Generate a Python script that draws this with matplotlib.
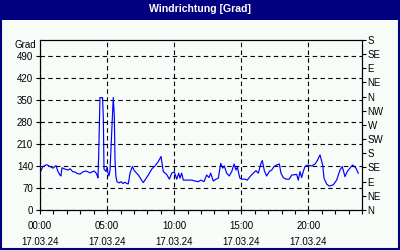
"""Windrichtung chart (wind direction over one day)."""

import matplotlib
matplotlib.use("Agg")
import matplotlib.pyplot as plt
from matplotlib.patches import Rectangle

# hours since 17.03.24 00:00 and wind direction in degrees
hours = [
    0.0, 0.22, 0.5, 0.75, 0.97, 1.19, 1.34, 1.49, 1.56, 1.64, 1.86, 2.09, 2.24,
    2.46, 2.61, 2.76, 2.98, 3.2, 3.43, 3.58, 3.73, 3.87, 4.02, 4.17, 4.25, 4.32,
    4.37, 4.41, 4.47, 4.66, 4.72, 4.77, 4.84, 4.92, 4.99, 5.07, 5.14, 5.22, 5.34,
    5.46, 5.54, 5.59, 5.66, 5.74, 5.89, 6.04, 6.18, 6.33, 6.48, 6.58, 6.71, 6.88,
    7.03, 7.33, 7.7, 8.07, 8.33, 8.57, 8.82, 9.02, 9.19, 9.44, 9.64, 9.82, 10.01,
    10.19, 10.34, 10.43, 10.56, 10.68, 11.31, 11.55, 11.8, 11.98, 12.22, 12.42,
    12.6, 12.72, 12.92, 13.12, 13.29, 13.47, 13.62, 13.74, 13.91, 14.11, 14.29,
    14.46, 14.61, 14.71, 14.81, 14.9, 15.03, 15.28, 15.45, 15.65, 15.9, 16.1,
    16.27, 16.47, 16.57, 16.72, 16.89, 17.09, 17.27, 17.44, 17.64, 17.84, 17.96,
    18.13, 18.33, 18.58, 18.76, 19.13, 19.25, 19.38, 19.5, 19.62, 19.75, 19.92,
    20.25, 20.5, 20.67, 20.87, 21.07, 21.17, 21.37, 21.56, 21.86, 22.11, 22.36,
    22.53, 22.73, 22.9, 23.1, 23.3, 23.55, 23.72,
]
direction = [
    119, 138, 144, 138, 133, 141, 122, 111, 108, 134, 130, 127, 131,
    121, 121, 116, 114, 121, 124, 121, 118, 121, 124, 118, 111, 102,
    166, 245, 357, 357, 293, 130, 127, 122, 134, 117, 108, 127, 245,
    357, 300, 159, 106, 90, 86, 90, 84, 88, 84, 83, 117, 138,
    125, 111, 87, 111, 130, 140, 154, 170, 122, 113, 98, 117, 121,
    98, 117, 101, 117, 95, 95, 92, 90, 95, 90, 111,
    103, 117, 92, 98, 101, 148, 133, 140, 117, 108, 122,
    146, 127, 137, 117, 101, 98, 98, 95, 106, 117, 125,
    117, 148, 157, 125, 108, 122, 127, 138, 143, 146, 117,
    103, 98, 98, 111, 113, 95, 122, 103, 122, 138, 143,
    140, 146, 157, 175, 143, 101, 82, 76, 80, 95, 127,
    138, 106, 122, 133, 143, 133, 117,
]

left_ticks = [0, 70, 140, 210, 280, 350, 420, 490]
compass_ticks = [0, 45, 90, 135, 180, 225, 270, 315, 360, 405, 450, 495, 540]
compass_labels = ["N", "NE", "E", "SE", "S", "SW", "W", "NW",
                  "N", "NE", "E", "SE", "S"]
time_ticks = [0, 5, 10, 15, 20]
time_labels = ["00:00\n17.03.24", "05:00\n17.03.24", "10:00\n17.03.24",
               "15:00\n17.03.24", "20:00\n17.03.24"]

NAVY = "#000080"
BG = "#f8fcf8"

plt.rcParams["font.family"] = ["Liberation Sans", "DejaVu Sans"]
plt.rcParams["font.size"] = 7

fig = plt.figure(figsize=(4, 2.5), dpi=100, facecolor=BG)

# window frame with title bar
fig.patches.append(Rectangle((0, 0.92), 1, 0.08, transform=fig.transFigure,
                             facecolor=NAVY, edgecolor="none", zorder=0))
fig.patches.append(Rectangle((0.0025, 0.004), 0.995, 0.95, transform=fig.transFigure,
                             facecolor="none", edgecolor=NAVY, linewidth=1.5, zorder=0))
fig.text(0.5, 0.966, "Windrichtung [Grad]", color="white", fontweight="bold",
         ha="center", va="center", fontsize=7.6)

ax = fig.add_axes([0.1, 0.16, 0.805, 0.68])
ax.set_facecolor(BG)
ax.plot(hours, direction, color="#0000ff", linewidth=0.85)

ax.set_xlim(0, 24)
ax.set_ylim(0, 540)
ax.set_yticks(left_ticks)
ax.set_xticks(time_ticks)
ax.set_xticklabels(time_labels, linespacing=1.75)
ax.set_xticks(range(0, 25), minor=True)
ax.tick_params(axis="both", which="both", length=3, width=0.8, color="black",
               direction="out")
ax.tick_params(axis="x", pad=5)
ax.tick_params(axis="y", pad=2)
ax.grid(True, which="major", color="black", linestyle=(0, (4, 3)), linewidth=0.8)
for sp in ax.spines.values():
    sp.set_linewidth(0.8)
ax.text(-0.012, 1.0 - 5 / 170, "Grad", transform=ax.transAxes,
        ha="right", va="center")

ax2 = ax.twinx()
ax2.set_ylim(0, 540)
ax2.set_yticks(compass_ticks)
ax2.set_yticklabels(compass_labels)
ax2.tick_params(axis="y", length=3, width=0.8, pad=1)
for sp in ax2.spines.values():
    sp.set_linewidth(0.8)

fig.savefig("out.png", dpi=100, facecolor=BG)
